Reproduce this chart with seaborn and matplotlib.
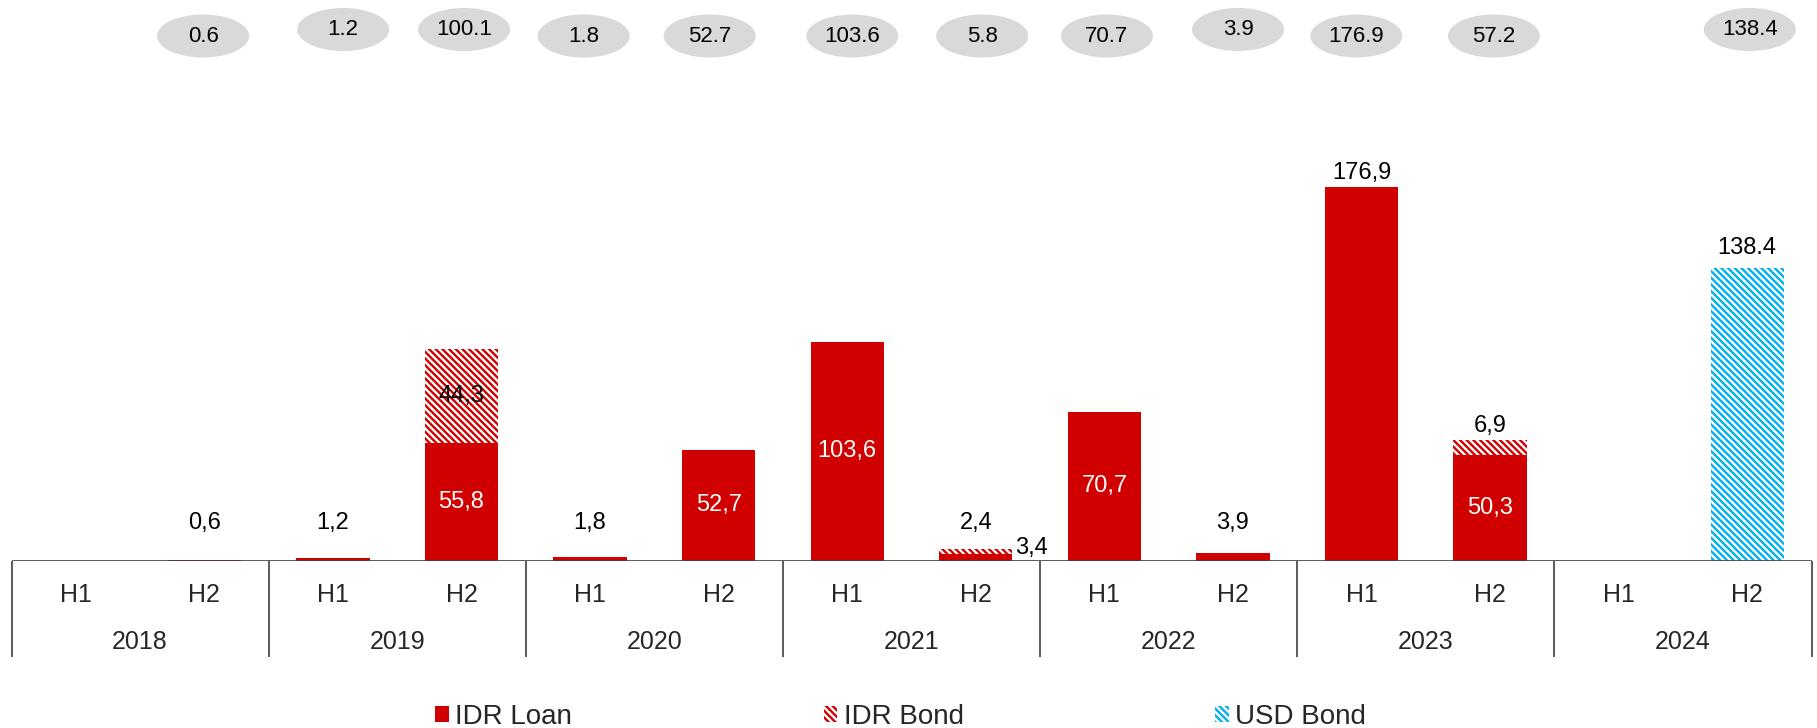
import matplotlib
matplotlib.use("Agg")
import matplotlib.pyplot as plt
from matplotlib.patches import Ellipse, Patch
import pandas as pd
import seaborn as sns

# ---------------- data ----------------
years = ["2018", "2019", "2020", "2021", "2022", "2023", "2024"]
halves = ["H1", "H2"]
idr_loan = [0.0, 0.6, 1.2, 55.8, 1.8, 52.7, 103.6, 3.4, 70.7, 3.9, 176.9, 50.3, 0.0, 0.0]
idr_bond = [0.0, 0.0, 0.0, 44.3, 0.0, 0.0, 0.0, 2.4, 0.0, 0.0, 0.0, 6.9, 0.0, 0.0]
usd_bond = [0.0, 0.0, 0.0, 0.0, 0.0, 0.0, 0.0, 0.0, 0.0, 0.0, 0.0, 0.0, 0.0, 138.4]
series_names = ["IDR Loan", "IDR Bond", "USD Bond"]

# ---------------- layout helpers (not data) ----------------
loan_label_mode = ["", "low", "low", "in", "low", "in", "in", "right", "in", "low", "top", "in", "", ""]
bond_label_mode = ["", "", "", "in", "", "", "", "low", "", "", "", "top", "", ""]
usd_label_mode = ["", "", "", "", "", "", "", "", "", "", "", "", "", "top"]
bubble_dx = [0, -0.01, 0.08, 0.02, -0.05, -0.07, 0.04, 0.05, 0.02, 0.04, -0.04, 0.03, 0, 0.02]
bubble_raised = [0, 0, 1, 1, 0, 0, 0, 0, 0, 1, 0, 0, 0, 1]

RED = "#D00000"
BLUE = "#00B0F0"
GREY = "#D9D9D9"
LINE = "#404040"
HATCH = "\\" * 5

slots = [f"{y} {h}" for y in years for h in halves]
df = pd.DataFrame({
    "slot": slots,
    "loan": idr_loan,
    "idr_total": [a + b for a, b in zip(idr_loan, idr_bond)],
    "usd": usd_bond,
})

sns.set_style("white")
plt.rcParams["font.family"] = ["Liberation Sans", "DejaVu Sans"]
plt.rcParams["hatch.linewidth"] = 1.7

W, H = 1817, 728
BASE = 561          # baseline pixel row
PPU = 2.114         # pixels per unit
fig = plt.figure(figsize=(W / 100, H / 100), dpi=100)
ax = fig.add_axes([11.5 / W, (H - BASE) / H, 1800 / W, BASE / H])

BW = 0.57
common = dict(x="slot", order=slots, width=BW, saturation=1, errorbar=None, ax=ax, linewidth=0)
sns.barplot(data=df, y="idr_total", color="white", edgecolor=RED, hatch=HATCH, **common)
sns.barplot(data=df, y="loan", color=RED, edgecolor=RED, **common)
sns.barplot(data=df, y="usd", color="white", edgecolor=BLUE, hatch=HATCH, **common)

ax.set_xlim(-0.5, len(slots) - 0.5)
ax.set_ylim(0, BASE / PPU)
for s in ax.spines.values():
    s.set_visible(False)
ax.set_xticks([])
ax.set_yticks([])
ax.set_xlabel("")
ax.set_ylabel("")


def px(dy):
    return dy / PPU


def fmt(v, sep=","):
    return f"{v:.1f}".replace(".", sep)


FS = 17
# ---------------- bar labels ----------------
for i in range(len(slots)):
    loan, bond, usd = idr_loan[i], idr_bond[i], usd_bond[i]
    m = loan_label_mode[i]
    if m == "in":
        ax.text(i, loan / 2, fmt(loan), ha="center", va="center", color="white", fontsize=FS)
    elif m == "low":
        ax.text(i, px(38), fmt(loan), ha="center", va="center", color="black", fontsize=FS)
    elif m == "right":
        ax.text(i + BW / 2 + 0.02, px(13), fmt(loan), ha="left", va="center", color="black", fontsize=FS)
    elif m == "top":
        ax.text(i, loan + px(14), fmt(loan), ha="center", va="center", color="black", fontsize=FS)
    m = bond_label_mode[i]
    if m == "in":
        ax.text(i, loan + bond / 2, fmt(bond), ha="center", va="center", color="black", fontsize=FS)
    elif m == "low":
        ax.text(i, px(38), fmt(bond), ha="center", va="center", color="black", fontsize=FS)
    elif m == "top":
        ax.text(i, loan + bond + px(14), fmt(bond), ha="center", va="center", color="black", fontsize=FS)
    if usd_label_mode[i] == "top":
        ax.text(i, usd + px(20), fmt(usd, "."), ha="center", va="center", color="black", fontsize=FS)

# ---------------- total bubbles ----------------
for i in range(len(slots)):
    tot = idr_loan[i] + idr_bond[i] + usd_bond[i]
    if tot <= 0:
        continue
    cy = px(BASE - (29.5 if bubble_raised[i] else 36))
    cx = i + bubble_dx[i]
    ax.add_patch(Ellipse((cx, cy), width=92 / 128.6, height=px(43), facecolor=GREY,
                         edgecolor="none", clip_on=False, zorder=3))
    ax.text(cx, cy, f"{tot:.1f}", ha="center", va="center", fontsize=16, color="black", zorder=4)

# ---------------- category table ----------------
ax.axhline(0, color=LINE, lw=1.2, zorder=5)
ax.vlines([-0.5 + 2 * k for k in range(len(years) + 1)], px(-96), 0, color=LINE, lw=1.2, clip_on=False)
for i, s in enumerate(slots):
    ax.text(i, px(-34), s.split()[1], ha="center", va="center", fontsize=18, clip_on=False)
for k, y in enumerate(years):
    ax.text(2 * k + 0.5, px(-81), y, ha="center", va="center", fontsize=18, clip_on=False)

# ---------------- legend ----------------
handles = [
    Patch(facecolor=RED, edgecolor=RED, linewidth=0),
    Patch(facecolor="white", edgecolor=RED, hatch=HATCH, linewidth=0),
    Patch(facecolor="white", edgecolor=BLUE, hatch=HATCH, linewidth=0),
]
fig.legend(handles, series_names, loc="center", bbox_to_anchor=(0.4956, 0.0151), ncol=3,
           frameon=False, fontsize=20, handlelength=0.5, handleheight=0.5,
           handletextpad=0.22, columnspacing=9.05, borderpad=0, borderaxespad=0)

fig.savefig("out.png", dpi=100)
